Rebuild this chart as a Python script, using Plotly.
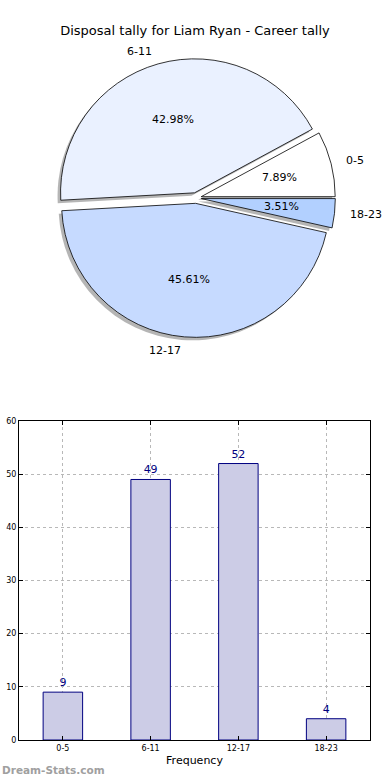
import math
import plotly.graph_objects as go

categories = ["0-5", "6-11", "12-17", "18-23"]
counts = [9, 49, 52, 4]
pie_colors = ["#FFFFFF", "#EAF1FF", "#C6DAFF", "#B2D0FF"]
yticks = [0, 10, 20, 30, 40, 50, 60]
title_text = "Disposal tally for Liam Ryan - Career tally"
font_family = "DejaVu Sans, Verdana, sans-serif"

W, H = 390, 780

def px_x(x):
    return x / W

def px_y(y):
    return 1 - y / H

total = sum(counts)
# start first slice at 3 o'clock going counterclockwise (matplotlib default)
start_rotation = 90 - 360 * counts[0] / total

PULL = 0.04
pull = [PULL] * len(counts)
CX, CY, R = 196, 198, 134          # pie centre and radius in pixels (layout)
VSQ = 0.95                          # slight vertical squash for percentage placement
half = R * (1 + PULL)
pie_dom_x = [px_x(CX - half), px_x(CX + half)]
pie_dom_y = [px_y(CY + half), px_y(CY - half)]
sh = 3
fig = go.Figure()

# shadow
fig.add_trace(go.Pie(
    labels=categories, values=counts, sort=False, direction="counterclockwise",
    rotation=start_rotation, pull=pull,
    marker=dict(colors=["rgba(120,120,120,0.55)"] * 4, line=dict(width=0)),
    textinfo="none", hoverinfo="skip", showlegend=False,
    domain=dict(x=[pie_dom_x[0] - sh / W, pie_dom_x[1] - sh / W],
                y=[pie_dom_y[0] - sh / H, pie_dom_y[1] - sh / H]),
))
# main pie
fig.add_trace(go.Pie(
    labels=categories, values=counts, sort=False, direction="counterclockwise",
    rotation=start_rotation, pull=pull,
    marker=dict(colors=pie_colors, line=dict(color="black", width=0.8)),
    textinfo="none", hoverinfo="skip",
    showlegend=False, domain=dict(x=pie_dom_x, y=pie_dom_y),
))

# slice labels (matplotlib style: labels at 1.1 r, percentages at 0.6 r)
annotations = []
cum = 0.0
for lab, v in zip(categories, counts):
    mid = math.radians(360 * (cum + v / 2) / total)
    cum += v
    c, s = math.cos(mid), math.sin(mid)
    rp = (0.6 + PULL) * R
    annotations.append(dict(
        text=f"{100 * v / total:.2f}%", x=px_x(CX + rp * c), y=px_y(CY - rp * s * VSQ),
        xref="paper", yref="paper", xanchor="center", yanchor="middle", showarrow=False,
        font=dict(family=font_family, size=11, color="black")))
    rl = (1.1 + PULL) * R
    annotations.append(dict(
        text=lab, x=px_x(CX + rl * c), y=px_y(CY - rl * s),
        xref="paper", yref="paper", xanchor="left" if c > 0 else "right",
        yanchor="middle", showarrow=False,
        font=dict(family=font_family, size=11, color="black")))

fig.add_trace(go.Bar(
    x=categories, y=counts, width=0.45,
    marker=dict(color="#CCCCE6", line=dict(color="#000080", width=1)),
    text=[str(c) for c in counts], textposition="outside",
    textfont=dict(family=font_family, size=11, color="#000080"),
    cliponaxis=False, showlegend=False, hoverinfo="skip", xaxis="x", yaxis="y",
))

axis_common = dict(
    showline=True, linecolor="black", linewidth=1, mirror="ticks",
    ticks="inside", ticklen=4, tickcolor="black",
    showgrid=True, gridcolor="#b8b8b8", griddash="dot", gridwidth=1,
    zeroline=False, automargin=False,
    tickfont=dict(family=font_family, size=8, color="black"),
)

annotations.append(dict(text="<b>Dream-Stats.com</b>", x=0, y=px_y(770), xref="paper", yref="paper",
                        xanchor="left", yanchor="middle", showarrow=False,
                        font=dict(family=font_family, size=10.5, color="#a0a0a0")))

fig.update_layout(
    width=W, height=H, margin=dict(l=0, r=0, t=0, b=0),
    paper_bgcolor="white", plot_bgcolor="white",
    font=dict(family=font_family, color="black"),
    title=dict(text=title_text, x=0.5, xanchor="center", y=px_y(30), yanchor="middle",
               font=dict(family=font_family, size=13, color="black")),
    xaxis=dict(domain=[px_x(19), px_x(370)], anchor="y", range=[-0.5, 3.5],
               title=dict(text="Frequency", font=dict(family=font_family, size=11), standoff=4),
               **axis_common),
    yaxis=dict(domain=[px_y(740), px_y(421)], anchor="x", range=[0, 60],
               tickvals=yticks, **axis_common),
    hovermode=False,
    annotations=annotations,
)

fig.write_html("out.html", config={"displayModeBar": False},
               post_script="document.body.style.margin='0';document.body.style.overflow='hidden';")
